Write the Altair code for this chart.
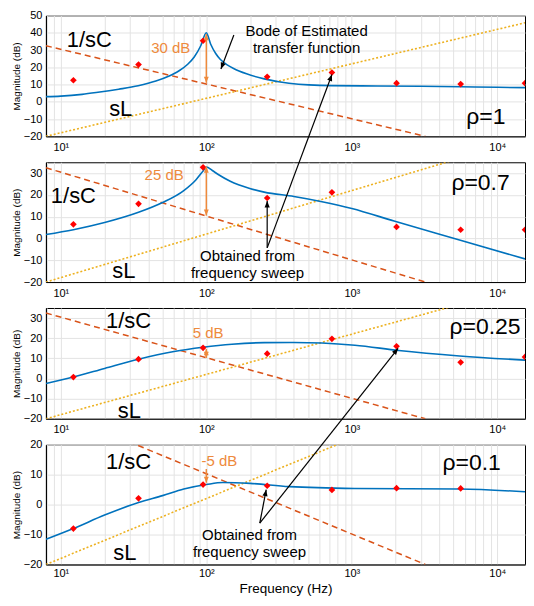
import math
import altair as alt
import pandas as pd

# ---------------- values ----------------
FREQ_MIN, FREQ_MAX = 7.9, 15500

# frequency-sweep measurements (red diamonds)
sweep_f = [12.2, 34.2, 95, 262, 730, 2030, 5600, 15500]
sweep_rho1 = [12.5, 21.6, 35.4, 14.5, 17.0, 10.8, 10.3, 10.8]
sweep_rho07 = [6.5, 15.9, 32.7, 18.6, 21.2, 5.3, 4.0, 4.0]
sweep_rho025 = [0.7, 9.6, 15.2, 12.3, 19.7, 16.0, 8.0, 10.7]
sweep_rho01 = [-8.0, 2.1, 6.7, 6.3, 4.9, 5.5, 5.4]

# Bode of the estimated transfer function (blue curves)
bode_rho1_f = [7.9, 10, 14, 18, 25, 34, 45, 55, 65, 74.5, 82.6, 91.6, 100, 107, 116, 125, 140, 154, 189, 250, 370, 730, 1500, 3000, 7000, 15500]
bode_rho1_v = [3.0, 3.3, 4.3, 5.5, 7.3, 9.3, 12.0, 14.8, 18.0, 21.8, 26.0, 32.5, 40.0, 33.5, 28.0, 24.5, 21.3, 19.3, 16.2, 13.3, 10.8, 9.4, 9.2, 9.0, 8.6, 8.2]
bode_rho07_f = [7.9, 12.2, 20, 34.2, 50, 70, 85, 95, 100, 110, 120, 146, 199, 250, 400, 624, 1000, 1950, 5500, 15500]
bode_rho07_v = [1.8, 4.0, 7.3, 12.0, 16.5, 22.0, 27.0, 31.0, 32.8, 31.2, 29.5, 26.3, 23.0, 21.3, 19.3, 16.9, 13.8, 8.0, -0.7, -9.4]
bode_rho025_f = [7.9, 12.2, 20, 34.2, 60, 95, 150, 250, 400, 624, 1050, 2100, 5500, 15500]
bode_rho025_v = [-2.5, 0.7, 5.0, 9.6, 13.4, 15.5, 17.0, 17.8, 17.9, 17.6, 16.5, 13.9, 11.2, 9.1]
bode_rho01_f = [7.9, 12.2, 20, 34.2, 50, 70, 100, 130, 200, 371, 1050, 5500, 15500]
bode_rho01_v = [-11.6, -8.0, -3.5, 0.7, 3.0, 5.2, 6.7, 7.4, 7.1, 6.0, 5.4, 5.2, 4.3]

# asymptotes 1/sC (dashed) and sL (dotted)
sc_f = [7.9, 3200]
sc_v = [32.5, -20.0]
sl_f = [7.9, 15500]
sl_v = [-20.0, 45.8]

# axis ticks
y_top = [50, 35, 35, 20]
y_bot = -20
x_tick_values = [8, 9] + [m * 10 ** e for e in range(1, 4) for m in range(1, 10)] + [10000]

# text annotations (panel index, text, frequency, dB, kind)
ann_panel = [0, 0, 0, 0, 0, 0, 1, 1, 1, 1, 1, 1, 2, 2, 2, 2, 3, 3, 3, 3, 3, 3]
ann_text = ["1/sC", "sL", "30 dB", "Bode of Estimated", "transfer function", "ρ=1",
            "1/sC", "sL", "25 dB", "ρ=0.7", "Obtained from", "frequency sweep",
            "1/sC", "sL", "5 dB", "ρ=0.25",
            "1/sC", "sL", "-5 dB", "ρ=0.1", "Obtained from", "frequency sweep"]
ann_f = [15.7, 25.8, 57, 489, 489, 8340, 12.2, 27.1, 51.3, 7670, 192, 192,
         29.2, 29.6, 103, 8240, 29.2, 27.5, 123, 6670, 198, 198]
ann_v = [35.8, -4.0, 31.0, 40.8, 31.2, -8.9, 19.4, -15.1, 29.3, 25.5, -8.2, -15.8,
         28.4, -16.2, 22.8, 25.4, 14.2, -16.1, 14.5, 13.8, -10.2, -15.9]
ann_kind = ["asym", "asym", "db", "note", "note", "rho", "asym", "asym", "db", "rho", "note", "note",
            "asym", "asym", "db", "rho", "asym", "asym", "db", "rho", "note", "note"]

# arrows (tail panel/f/dB -> tip panel/f/dB)
arr_tail_panel = [0, 1, 1, 3, 3, 0, 1, 2, 3]
arr_tail_f = [154.6, 262, 262, 233, 233, 100, 100, 100, 100]
arr_tail_v = [38.7, -4.3, -4.3, -6.2, -6.2, 11.0, 10.5, 10.2, 11.9]
arr_tip_panel = [0, 0, 1, 2, 3, 0, 1, 2, 3]
arr_tip_f = [126, 730, 262, 2080, 258, 100, 100, 100, 100]
arr_tip_v = [19.0, 15.8, 17.2, 15.0, 5.0, 39.3, 33.0, 14.6, 7.3]
arr_kind = ["black"] * 5 + ["orange"] * 4
arr_both = [False] * 5 + [True, True, True, False]

# ---------------- layout & styles ----------------
WIDTH = 480
HEIGHTS = [121, 120, 111, 120]
SPACING = 26
FONT = "Liberation Sans"
BLUE = "#0072BD"
ORANGE_LINE = "#D95319"
YELLOW = "#EDB120"
ORANGE_TXT = "#EE8A3C"
GRID = "#e3e3e3"
TEXT_STYLE = {"asym": (22, "black"), "rho": (23, "black"), "note": (15, "black"), "db": (15, ORANGE_TXT)}
ARROW_STYLE = {"black": ("black", 1.2, 170), "orange": (ORANGE_TXT, 1.5, 150)}
HEAD = "M0,0L0.4,1L-0.4,1Z"


def panel_top(k):
    return sum(HEIGHTS[:k]) + SPACING * k


def ypix(k, v):
    return panel_top(k) + (y_top[k] - v) * HEIGHTS[k] / (y_top[k] - y_bot)


def v_in(k, y):
    return y_top[k] - (y - panel_top(k)) * (y_top[k] - y_bot) / HEIGHTS[k]


def xpix(f):
    return WIDTH * (math.log10(f) - math.log10(FREQ_MIN)) / (math.log10(FREQ_MAX) - math.log10(FREQ_MIN))


# arrow geometry in the tail panel's units
rule_rows, head_rows = [], []
for i in range(len(arr_kind)):
    k = arr_tail_panel[i]
    tv = v_in(k, ypix(arr_tip_panel[i], arr_tip_v[i]))
    x0, y0 = xpix(arr_tail_f[i]), ypix(k, arr_tail_v[i])
    x1, y1 = xpix(arr_tip_f[i]), ypix(k, tv)
    ang = math.degrees(math.atan2(x1 - x0, -(y1 - y0))) % 360
    rule_rows.append(dict(panel=k, kind=arr_kind[i], f=arr_tail_f[i], v=arr_tail_v[i], f2=arr_tip_f[i], v2=tv))
    head_rows.append(dict(panel=k, kind=arr_kind[i], f=arr_tip_f[i], v=tv, ang=ang))
    if arr_both[i]:
        head_rows.append(dict(panel=k, kind=arr_kind[i], f=arr_tail_f[i], v=arr_tail_v[i], ang=(ang + 180) % 360))
rules_df = pd.DataFrame(rule_rows)
heads_df = pd.DataFrame(head_rows)
ann_df = pd.DataFrame(dict(panel=ann_panel, t=ann_text, f=ann_f, v=ann_v, kind=ann_kind))

bodes = [(bode_rho1_f, bode_rho1_v), (bode_rho07_f, bode_rho07_v),
         (bode_rho025_f, bode_rho025_v), (bode_rho01_f, bode_rho01_v)]
sweeps = [sweep_rho1, sweep_rho07, sweep_rho025, sweep_rho01]

label_expr = ("datum.value == 10 ? '10¹' : datum.value == 100 ? '10²' : "
              "datum.value == 1000 ? '10³' : datum.value == 10000 ? '10⁴' : ''")


def make_panel(k):
    last = k == 3
    xaxis = alt.Axis(values=x_tick_values, labelExpr=label_expr, grid=True, gridColor=GRID,
                     ticks=False, labelPadding=3 if last else 5, labelFontSize=11, labelFlush=False,
                     labelOverlap=False, domainColor="black",
                     title="Frequency (Hz)" if last else None,
                     titleFontSize=13.5, titleFontWeight="normal", titlePadding=3)
    yaxis = alt.Axis(values=list(range(y_bot, y_top[k] + 1, 10)), grid=True, gridColor=GRID,
                     ticks=False, labelPadding=4, labelFontSize=11, domainColor="black",
                     title="Magnitude (dB)", titleFontSize=10, titleFontWeight="normal", titlePadding=2)
    x = alt.X("f:Q", scale=alt.Scale(type="log", domain=[FREQ_MIN, FREQ_MAX]), axis=xaxis)
    y = alt.Y("v:Q", scale=alt.Scale(domain=[y_bot, y_top[k]]), axis=yaxis)

    layers = []
    layers.append(alt.Chart(pd.DataFrame(dict(f=sc_f, v=sc_v))).mark_line(
        clip=True, color=ORANGE_LINE, strokeWidth=1.5, strokeDash=[6, 4]).encode(x=x, y=y))
    layers.append(alt.Chart(pd.DataFrame(dict(f=sl_f, v=sl_v))).mark_line(
        clip=True, color=YELLOW, strokeWidth=1.6, strokeDash=[2, 2]).encode(x=x, y=y))
    bf, bv = bodes[k]
    layers.append(alt.Chart(pd.DataFrame(dict(f=bf, v=bv))).mark_line(
        clip=True, color=BLUE, strokeWidth=1.6, interpolate="monotone").encode(x=x, y=y))
    sv = sweeps[k]
    layers.append(alt.Chart(pd.DataFrame(dict(f=sweep_f[:len(sv)], v=sv))).mark_point(
        clip=True, shape="diamond", filled=True, opacity=1, size=45, color="#FF0000").encode(x=x, y=y))

    for kind, (fs, col) in TEXT_STYLE.items():
        d = ann_df[(ann_df.panel == k) & (ann_df.kind == kind)]
        if len(d):
            layers.append(alt.Chart(d).mark_text(font=FONT, fontSize=fs, color=col,
                                                 align="center", baseline="middle").encode(x=x, y=y, text="t:N"))
    for kind, (col, sw, hs) in ARROW_STYLE.items():
        r = rules_df[(rules_df.panel == k) & (rules_df.kind == kind)]
        if len(r):
            layers.append(alt.Chart(r).mark_rule(color=col, strokeWidth=sw).encode(
                x=x, y=y, x2="f2:Q", y2="v2:Q"))
        h = heads_df[(heads_df.panel == k) & (heads_df.kind == kind)]
        if len(h):
            layers.append(alt.Chart(h).mark_point(shape=HEAD, filled=True, opacity=1, size=hs,
                                                  color=col, strokeWidth=0).encode(
                x=x, y=y, angle=alt.Angle("ang:Q", scale=None)))
    return alt.layer(*layers).properties(width=WIDTH, height=HEIGHTS[k])


chart = alt.vconcat(*[make_panel(k) for k in range(4)], spacing=SPACING, bounds="flush").properties(
    padding={"left": 2, "top": 0, "right": 0, "bottom": 0}
).configure_view(stroke="black", strokeWidth=1).configure_axis(
    labelFont=FONT, titleFont=FONT, labelColor="black", titleColor="black"
)

chart.save("out.html", embed_options={"renderer": "svg", "actions": False})
